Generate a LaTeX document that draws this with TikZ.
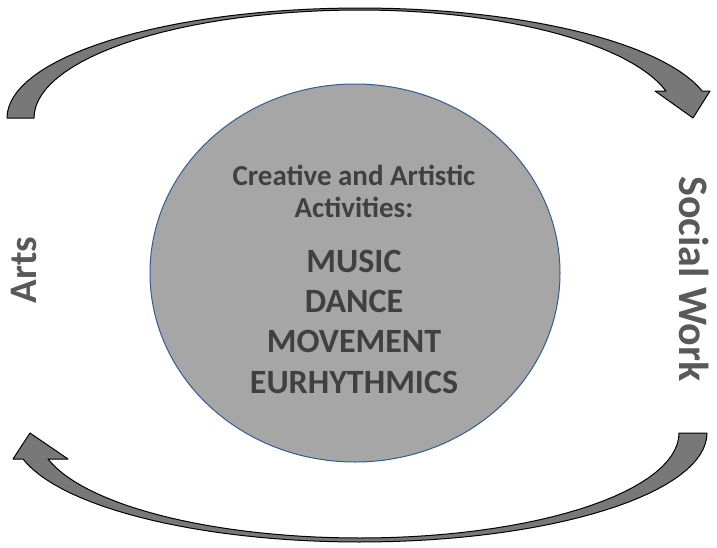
\documentclass[tikz,border=0pt]{standalone}
\usepackage{fontspec}
\setmainfont{Carlito}
\usepackage{tikz}
\usetikzlibrary{shapes.geometric}

\definecolor{arrowgray}{RGB}{120,120,120}
\definecolor{blobgray}{RGB}{166,166,166}
\definecolor{ringblue}{RGB}{52,92,148}
\definecolor{inkgray}{RGB}{64,64,64}
\definecolor{sidegray}{RGB}{89,89,89}

\begin{document}
\begin{tikzpicture}[x=1pt,y=-1pt,
    blob/.style={ellipse, draw=ringblue, line width=1pt, fill=blobgray,
        minimum width=410pt, minimum height=378pt, inner sep=0pt},
    head/.style={text=inkgray, inner sep=0pt, anchor=base,
        font=\fontsize{29}{33}\selectfont\bfseries},
    act/.style={text=inkgray, inner sep=0pt, anchor=base,
        font=\fontsize{34}{38}\selectfont\bfseries},
    side/.style={text=sidegray, inner sep=0pt,
        font=\fontsize{42}{46}\selectfont\bfseries},
    bent/.style={fill=arrowgray, draw=black, line width=1pt, line join=round}]
    \useasboundingbox (0,0) rectangle (717,547);

    % upper arrow, Arts -> Social Work
    \draw[bent] (34,118) -- (7,118)
        -- plot[domain=180:345.8, samples=60, variable=\t]
            ({360+353*cos(\t)}, {118+110*sin(\t)})
        -- (710,91) -- (693,118) -- (655,91) -- (666,91)
        -- plot[domain=345.5:270, samples=30, variable=\t]
            ({360+316*cos(\t)}, {118+108*sin(\t)})
        -- plot[domain=270:180, samples=30, variable=\t]
            ({360+326*cos(\t)}, {118+108*sin(\t)})
        -- cycle;

    % lower arrow, Social Work -> Arts
    \draw[bent] (679,433) -- (707,433)
        -- plot[domain=0:166.2, samples=60, variable=\t]
            ({360+347*cos(\t)}, {433+109*sin(\t)})
        -- (13,459) -- (30,433) -- (68,459) -- (48,459)
        -- plot[domain=165.7:90, samples=30, variable=\t]
            ({360+322*cos(\t)}, {433+105*sin(\t)})
        -- plot[domain=90:0, samples=30, variable=\t]
            ({360+319*cos(\t)}, {433+105*sin(\t)})
        -- cycle;

    \node[blob] (circ) at (355,273) {};

    \node[head] (cr) at (354,185) {Creative and Artistic};
    \node[head] (ac) at (354,217) {Activities:};
    \foreach \w/\y in {MUSIC/272, DANCE/312, MOVEMENT/352, EURHYTHMICS/393}{
        \node[act] (\w) at (354,\y) {\w};
    }

    \node[side, rotate=90, font=\fontsize{39}{44}\selectfont\bfseries]
        (arts) at (23.5,270) {Arts};
    \node[side, rotate=-90] (sw) at (694,279) {Social Work};
\end{tikzpicture}
\end{document}
